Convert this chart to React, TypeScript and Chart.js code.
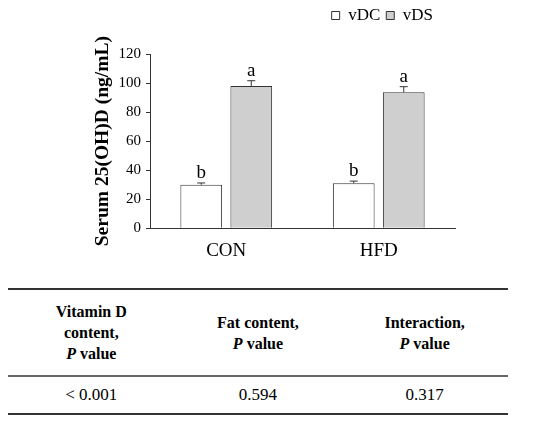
import { useEffect, useRef } from "react";
import { Chart, registerables } from "chart.js";

Chart.register(...registerables);

const SERIF = '"Liberation Serif", "Times New Roman", serif';

// chart data
const groups = ["CON", "HFD"];
const seriesNames = ["vDC", "vDS"];
const vdcMeans = [30.0, 31.1];
const vdsMeans = [98.0, 93.7];
const vdcErrors = [1.2, 1.4];
const vdsErrors = [3.6, 3.8];
const vdcLetters = ["b", "b"];
const vdsLetters = ["a", "a"];
const yMax = 120;
const yStep = 20;
const yTitle = "Serum 25(OH)D (ng/mL)";

// two-way ANOVA table
const headerLines = [["Vitamin D", "content,"], ["Fat content,"], ["Interaction,"]];
const pValues = ["< 0.001", "0.594", "0.317"];

const seriesErrors = [vdcErrors, vdsErrors];
const seriesLetters = [vdcLetters, vdsLetters];

const errorBars = {
  id: "errorBars",
  afterDatasetsDraw(chart: any) {
    const { ctx } = chart;
    const y = chart.scales.y;
    ctx.save();
    chart.data.datasets.forEach((ds: any, di: number) => {
      const meta = chart.getDatasetMeta(di);
      meta.data.forEach((bar: any, i: number) => {
        const v = ds.data[i];
        const top = y.getPixelForValue(v + seriesErrors[di][i]);
        const base = y.getPixelForValue(v);
        ctx.strokeStyle = "#333";
        ctx.lineWidth = 1;
        ctx.beginPath();
        ctx.moveTo(bar.x, base);
        ctx.lineTo(bar.x, top);
        ctx.moveTo(bar.x - 4, top);
        ctx.lineTo(bar.x + 4, top);
        ctx.stroke();
        ctx.fillStyle = "#000";
        ctx.font = `19px ${SERIF}`;
        ctx.textAlign = "center";
        ctx.textBaseline = "alphabetic";
        ctx.fillText(seriesLetters[di][i], bar.x, top - 5);
      });
    });
    ctx.restore();
  },
};

// move the legend up and left, to sit above the right bars
const legendNudge = {
  id: "legendNudge",
  afterLayout(chart: any) {
    const lg = chart.legend;
    if (!lg) return;
    lg.top -= 20;
    lg.bottom -= 20;
    lg.left -= 16;
    lg.right -= 16;
  },
};

const SerumChart = () => {
  const chartRef = useRef<HTMLCanvasElement | null>(null);

  useEffect(() => {
    if (!chartRef.current) return;
    const ctx = chartRef.current.getContext("2d");
    if (!ctx) return;

    const chart = new Chart(ctx, {
      type: "bar",
      data: {
        labels: groups,
        datasets: [
          {
            label: seriesNames[0],
            data: vdcMeans,
            backgroundColor: "#ffffff",
            borderColor: "#333333",
            borderWidth: 1,
            categoryPercentage: 0.656,
            barPercentage: 0.834,
          },
          {
            label: seriesNames[1],
            data: vdsMeans,
            backgroundColor: "#cfcfcf",
            borderColor: "#333333",
            borderWidth: 1,
            categoryPercentage: 0.656,
            barPercentage: 0.834,
          },
        ],
      },
      options: {
        animation: false,
        responsive: true,
        maintainAspectRatio: false,
        layout: { padding: { top: 21, right: 95, left: 0, bottom: 0 } },
        plugins: {
          tooltip: { enabled: false },
          legend: {
            position: "top",
            align: "end",
            labels: {
              boxWidth: 8,
              boxHeight: 8,
              padding: 6,
              color: "#000",
              font: { family: SERIF, size: 17 },
            },
          },
        },
        scales: {
          x: {
            grid: { display: false, drawTicks: false },
            border: { color: "#333", width: 1 },
            ticks: { color: "#000", padding: 11, font: { family: SERIF, size: 19 } },
            afterFit: (s: any) => {
              s.height = 41.7;
            },
          },
          y: {
            min: 0,
            max: yMax,
            ticks: { stepSize: yStep, color: "#000", padding: 5, font: { family: SERIF, size: 15 } },
            grid: { drawOnChartArea: false, drawTicks: true, tickLength: 4, color: "#333" },
            border: { color: "#333", width: 1 },
            title: {
              display: true,
              text: yTitle,
              color: "#000",
              padding: { top: 91, bottom: 0 },
              font: { family: SERIF, size: 19.5, weight: "bold" },
            },
            afterFit: (s: any) => {
              s.width = 150;
            },
          },
        },
      },
      plugins: [errorBars, legendNudge],
    } as any);

    return () => {
      chart.destroy();
    };
  }, []);

  return (
    <div style={{ position: "absolute", left: 0, top: 0, width: 550, height: 270 }}>
      <canvas ref={chartRef}></canvas>
    </div>
  );
};

const colW = 500 / 3;

const App = () => {
  useEffect(() => {
    document.body.style.margin = "0";
  }, []);

  return (
    <div
      style={{
        position: "relative",
        width: 550,
        height: 423,
        background: "#fff",
        fontFamily: SERIF,
        color: "#000",
        overflow: "hidden",
      }}
    >
      <SerumChart />
      <div style={{ position: "absolute", left: 8, top: 288, width: 500, height: 2, background: "#333" }} />
      <div style={{ position: "absolute", left: 8, top: 375, width: 500, height: 2, background: "#666" }} />
      <div style={{ position: "absolute", left: 8, top: 413, width: 500, height: 2, background: "#333" }} />
      {headerLines.map((lines, i) => (
        <div
          key={"h" + i}
          style={{
            position: "absolute",
            left: 8 + colW * i,
            top: 290,
            width: colW,
            height: 85,
            display: "flex",
            flexDirection: "column",
            alignItems: "center",
            justifyContent: "center",
            fontWeight: "bold",
            fontSize: 16,
            lineHeight: "21px",
            textAlign: "center",
          }}
        >
          {lines.map((l) => (
            <div key={l}>{l}</div>
          ))}
          <div>
            <i>P</i> value
          </div>
        </div>
      ))}
      {pValues.map((p, i) => (
        <div
          key={"v" + i}
          style={{
            position: "absolute",
            left: 8 + colW * i,
            top: 377,
            width: colW,
            height: 36,
            display: "flex",
            alignItems: "center",
            justifyContent: "center",
            fontSize: 17,
          }}
        >
          {p}
        </div>
      ))}
    </div>
  );
};

export default App;
